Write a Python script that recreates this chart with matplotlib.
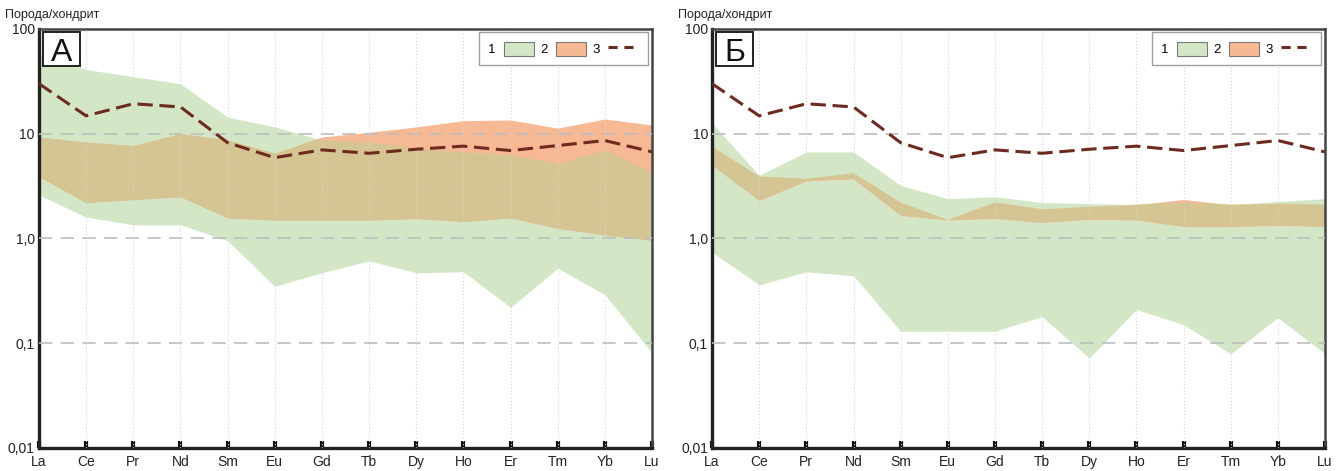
import numpy as np
import matplotlib
matplotlib.use('Agg')
import matplotlib.pyplot as plt
from matplotlib.patches import Patch, Rectangle
from matplotlib.lines import Line2D
from matplotlib.ticker import FixedLocator, NullLocator

plt.rcParams['font.family'] = ['Liberation Sans', 'DejaVu Sans']

elements = ['La', 'Ce', 'Pr', 'Nd', 'Sm', 'Eu', 'Gd', 'Tb', 'Dy', 'Ho', 'Er', 'Tm', 'Yb', 'Lu']

# 3 - dashed reference line (same on both panels)
line3 = [30, 14.8, 19.3, 18, 8.2, 5.9, 7.0, 6.5, 7.1, 7.6, 6.9, 7.7, 8.6, 6.7]

# panel A
a_green_hi = [56, 41, 35, 30, 14.4, 11.6, 8.7, 8.3, 7.3, 6.7, 6.3, 5.2, 7.0, 4.3]
a_green_lo = [2.6, 1.6, 1.35, 1.35, 0.95, 0.35, 0.47, 0.61, 0.47, 0.48, 0.22, 0.52, 0.29, 0.081]
a_orange_hi = [9.3, 8.3, 7.7, 10, 8.7, 6.5, 9.3, 10.3, 11.6, 13.3, 13.5, 11.3, 13.8, 12.1]
a_orange_lo = [3.9, 2.2, 2.35, 2.5, 1.57, 1.5, 1.5, 1.5, 1.55, 1.45, 1.57, 1.25, 1.08, 0.96]

# panel B
b_green_hi = [12.6, 4.0, 6.7, 6.7, 3.2, 2.4, 2.5, 2.2, 2.15, 2.1, 2.2, 2.1, 2.25, 2.4]
b_green_lo = [0.74, 0.36, 0.48, 0.44, 0.13, 0.13, 0.13, 0.18, 0.072, 0.21, 0.15, 0.079, 0.175, 0.079]
b_orange_hi = [7.5, 3.9, 3.7, 4.2, 2.2, 1.5, 2.2, 1.9, 2.0, 2.1, 2.35, 2.1, 2.15, 2.1]
b_orange_lo = [5.0, 2.3, 3.55, 3.7, 1.66, 1.5, 1.55, 1.42, 1.52, 1.5, 1.3, 1.3, 1.33, 1.3]

GREEN = '#d3e7c6'
ORANGE = '#f6b993'
OLIVE = '#d4c592'
LINE = '#6e2a1f'


def panel(ax, letter, g_hi, g_lo, o_hi, o_lo):
    x = np.arange(len(elements))
    ax.fill_between(x, g_lo, g_hi, color=GREEN, lw=0, zorder=1)
    ax.fill_between(x, o_lo, o_hi, color=ORANGE, lw=0, zorder=1.5)
    # overlap of both fields, computed in log space on a dense grid
    xf = np.linspace(0, len(elements) - 1, 1301)
    lg = lambda v: np.interp(xf, x, np.log10(v))
    top = np.minimum(lg(g_hi), lg(o_hi))
    bot = np.maximum(lg(g_lo), lg(o_lo))
    ax.fill_between(xf, 10 ** bot, 10 ** top, where=top > bot,
                    color=OLIVE, lw=0, zorder=2, interpolate=True)
    ax.plot(x, line3, color=LINE, lw=2.2, dashes=(5, 2.2), zorder=5)

    ax.set_yscale('log')
    ax.set_xlim(0, len(elements) - 1)
    ax.set_ylim(0.01, 100)
    ax.yaxis.set_major_locator(FixedLocator([0.01, 0.1, 1, 10, 100]))
    ax.yaxis.set_minor_locator(NullLocator())
    ax.set_yticklabels(['0,01', '0,1', '1,0', '10', '100'])
    ax.set_xticks(x)
    ax.set_xticklabels(elements)
    ax.tick_params(axis='y', length=0, pad=3, labelsize=10, colors='#222222')
    ax.tick_params(axis='x', direction='in', length=5, width=3, color='#111111',
                   pad=5, labelsize=10, labelcolor='#222222')
    for v in [0.1, 1, 10]:
        ax.axhline(v, color='#bdbdbd', lw=1.2, dashes=(8, 5), zorder=3)
    for xi in x[1:-1]:
        ax.axvline(xi, color='#d6d6d6', lw=0.8, ls=(0, (1, 2)), zorder=3)
    for s in ['left', 'bottom']:
        ax.spines[s].set_linewidth(2.4)
        ax.spines[s].set_color('#222222')
    for s in ['top', 'right']:
        ax.spines[s].set_linewidth(1.8)
        ax.spines[s].set_color('#444444')
    ax.text(-0.055, 1.018, 'Порода/хондрит', transform=ax.transAxes,
            fontsize=9, color='#222222', ha='left', va='bottom')
    ax.add_patch(Rectangle((0.006, 0.912), 0.061, 0.081, transform=ax.transAxes,
                           fc='white', ec='#222222', lw=1.4, zorder=10))
    ax.text(0.0365, 0.951, letter, transform=ax.transAxes, fontsize=23,
            ha='center', va='center_baseline', zorder=11, color='#111111')

    handles = [Patch(fc=GREEN, ec='#777777', lw=0.8),
               Patch(fc=ORANGE, ec='#777777', lw=0.8),
               Line2D([], [], color=LINE, lw=2.2, dashes=(3, 2.2))]
    leg = ax.legend(handles, ['1', '2', '3'], ncol=3, markerfirst=False,
                    loc='upper right', bbox_to_anchor=(0.993, 0.992),
                    fontsize=9.5, frameon=True, fancybox=False,
                    handlelength=2.3, handleheight=1.3, handletextpad=0.6,
                    columnspacing=0.5, borderpad=0.7, borderaxespad=0.0)
    leg.get_frame().set_edgecolor('#888888')
    leg.get_frame().set_linewidth(1.0)
    leg.set_zorder(10)


fig = plt.figure(figsize=(13.43, 4.71), dpi=100)
ax1 = fig.add_axes([0.029, 0.049, 0.4565, 0.8896])
ax2 = fig.add_axes([0.5302, 0.049, 0.4564, 0.8896])
panel(ax1, 'А', a_green_hi, a_green_lo, a_orange_hi, a_orange_lo)
panel(ax2, 'Б', b_green_hi, b_green_lo, b_orange_hi, b_orange_lo)
fig.savefig('out.png', dpi=100)
